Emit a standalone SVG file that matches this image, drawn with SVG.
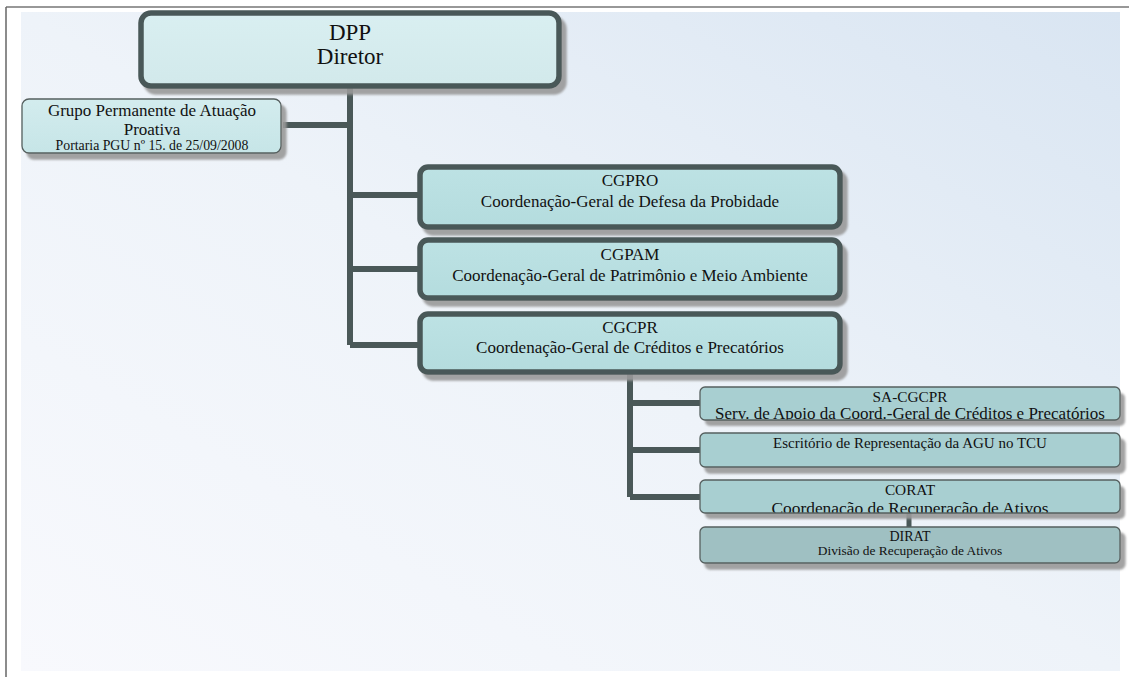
<svg xmlns="http://www.w3.org/2000/svg" width="1129" height="677" viewBox="0 0 1129 677">
<defs>
<linearGradient id="bg" x1="0" y1="1" x2="1" y2="0">
<stop offset="0" stop-color="#f8f9fd"/>
<stop offset="0.5" stop-color="#eef3f9"/>
<stop offset="1" stop-color="#d9e5f2"/>
</linearGradient>
<linearGradient id="gMain" x1="0" y1="0" x2="0" y2="1">
<stop offset="0" stop-color="#d9eff1"/>
<stop offset="1" stop-color="#d2e9eb"/>
</linearGradient>
<linearGradient id="gCG" x1="0" y1="0" x2="0" y2="1">
<stop offset="0" stop-color="#bde2e4"/>
<stop offset="1" stop-color="#b4dcde"/>
</linearGradient>
<linearGradient id="gGrp" x1="0" y1="0" x2="0" y2="1">
<stop offset="0" stop-color="#d3ecee"/>
<stop offset="1" stop-color="#c6e5e7"/>
</linearGradient>
<filter id="sh" x="-10%" y="-20%" width="125%" height="160%">
<feDropShadow dx="5" dy="6" stdDeviation="1.2" flood-color="#999999" flood-opacity="0.9"/>
</filter>
<clipPath id="cSA"><rect x="700" y="387" width="420" height="33" rx="5"/></clipPath>
<clipPath id="cCO"><rect x="700" y="480" width="420" height="33" rx="5"/></clipPath>
</defs>
<style>
.t text{fill:#111;text-anchor:middle}
.thick{stroke:#4a5858;stroke-width:5.5}
.thin{stroke:#56605f;stroke-width:1.3}
.conn{stroke:#4a5858;stroke-width:6;fill:none}
.small{fill:#a8cfd1}
.dir{fill:#9fc0c2}
</style>
<rect x="0" y="0" width="1129" height="677" fill="#ffffff"/>
<rect x="21" y="12" width="1099" height="659" fill="url(#bg)"/>
<line x1="6" y1="7" x2="1129" y2="7" stroke="#333" stroke-width="1.2"/>
<line x1="6" y1="7" x2="6" y2="677" stroke="#666" stroke-width="1.5"/>

<g id="connectors">
<path class="conn" d="M350 88 V345 M283 125 H350 M350 195 H418 M350 269 H418 M350 345 H418"/>
<path class="conn" d="M630 373 V497 M630 403 H700 M630 450 H700 M630 497 H700"/>
<line x1="909" y1="513" x2="909" y2="527" stroke="#4a5858" stroke-width="5"/>
</g>

<g class="t" font-family="Liberation Serif, DejaVu Serif, serif">
<g id="dpp">
<rect x="141" y="13" width="418" height="73" rx="10" fill="url(#gMain)" class="thick" filter="url(#sh)"/>
<text x="350" y="40" font-size="23">DPP</text>
<text x="350" y="64" font-size="23">Diretor</text>
</g>

<g id="grupo">
<rect x="22" y="99" width="259" height="54" rx="7" fill="url(#gGrp)" class="thin" filter="url(#sh)"/>
<text x="152" y="116" font-size="17">Grupo Permanente de Atuação</text>
<text x="152" y="135" font-size="17">Proativa</text>
<text x="152" y="150" font-size="13.8">Portaria PGU nº 15. de 25/09/2008</text>
</g>

<g id="cgpro">
<rect x="420" y="167" width="420" height="60" rx="8" fill="url(#gCG)" class="thick" filter="url(#sh)"/>
<text x="630" y="186" font-size="17">CGPRO</text>
<text x="630" y="207" font-size="17">Coordenação-Geral de Defesa da Probidade</text>
</g>

<g id="cgpam">
<rect x="420" y="240" width="420" height="58" rx="8" fill="url(#gCG)" class="thick" filter="url(#sh)"/>
<text x="630" y="260" font-size="17">CGPAM</text>
<text x="630" y="281" font-size="17">Coordenação-Geral de Patrimônio e Meio Ambiente</text>
</g>

<g id="cgcpr">
<rect x="420" y="314" width="420" height="58" rx="8" fill="url(#gCG)" class="thick" filter="url(#sh)"/>
<text x="630" y="333" font-size="17">CGCPR</text>
<text x="630" y="353" font-size="17">Coordenação-Geral de Créditos e Precatórios</text>
</g>

<g id="sa-cgcpr">
<rect x="700" y="387" width="420" height="33" rx="5" class="small" filter="url(#sh)"/>
<g clip-path="url(#cSA)">
<text x="910" y="402" font-size="15.3">SA-CGCPR</text>
<text x="910" y="419" font-size="17">Serv. de Apoio da Coord.-Geral de Créditos e Precatórios</text>
</g>
<rect x="700" y="387" width="420" height="33" rx="5" fill="none" class="thin"/>
</g>

<g id="escritorio">
<rect x="700" y="433" width="420" height="34" rx="5" class="small thin" filter="url(#sh)"/>
<text x="910" y="448" font-size="15">Escritório de Representação da AGU no TCU</text>
</g>

<g id="corat">
<rect x="700" y="480" width="420" height="33" rx="5" class="small" filter="url(#sh)"/>
<g clip-path="url(#cCO)">
<text x="910" y="495" font-size="15.3">CORAT</text>
<text x="910" y="514" font-size="17.4">Coordenação de Recuperação de Ativos</text>
</g>
<rect x="700" y="480" width="420" height="33" rx="5" fill="none" class="thin"/>
</g>

<g id="dirat">
<rect x="700" y="527" width="420" height="36" rx="5" class="dir thin" filter="url(#sh)"/>
<text x="910" y="541" font-size="14">DIRAT</text>
<text x="910" y="555" font-size="13.4">Divisão de Recuperação de Ativos</text>
</g>
</g>
</svg>
